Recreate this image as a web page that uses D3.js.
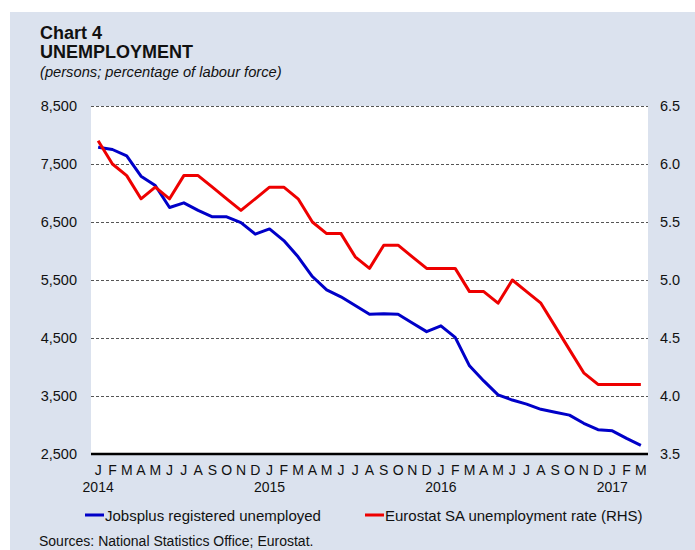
<!DOCTYPE html>
<html>
<head>
<meta charset="utf-8">
<script src="https://cdn.jsdelivr.net/npm/d3@7"></script>
<style>
  html, body { margin: 0; padding: 0; background: #ffffff; }
  svg text { font-family: 'Liberation Sans', Arial, sans-serif; fill: #111; }
</style>
</head>
<body>
<div id="chart"></div>
<script>
// Month labels, Jan 2014 to Mar 2017
const monthLabels = [
  'J','F','M','A','M','J','J','A','S','O','N','D',
  'J','F','M','A','M','J','J','A','S','O','N','D',
  'J','F','M','A','M','J','J','A','S','O','N','D',
  'J','F','M'
];
const yearLabels = ['2014', '2015', '2016', '2017'];

// Jobsplus registered unemployed (persons, LHS)
const jobsplus = [
  7790, 7750, 7640, 7290, 7130, 6750, 6830, 6700, 6590, 6590, 6490, 6290,
  6380, 6180, 5900, 5560, 5330, 5210, 5060, 4910, 4920, 4910, 4760, 4610,
  4710, 4510, 4020, 3760, 3520, 3430, 3360, 3270, 3220, 3170, 3030, 2920,
  2900, 2770, 2650
];

// Eurostat SA unemployment rate (%, RHS)
const eurostat = [
  6.2, 6.0, 5.9, 5.7, 5.8, 5.7, 5.9, 5.9, 5.8, 5.7, 5.6, 5.7,
  5.8, 5.8, 5.7, 5.5, 5.4, 5.4, 5.2, 5.1, 5.3, 5.3, 5.2, 5.1,
  5.1, 5.1, 4.9, 4.9, 4.8, 5.0, 4.9, 4.8, 4.6, 4.4, 4.2, 4.1,
  4.1, 4.1, 4.1
];

const leftTicks = [2500, 3500, 4500, 5500, 6500, 7500, 8500];
const rightTicks = [3.5, 4.0, 4.5, 5.0, 5.5, 6.0, 6.5];

(function() {
  const W = 695, H = 550;
  const plot = { left: 91, right: 648, top: 106, bottom: 454 };
  const bgColor = '#dbe2ee';
  const blue = '#0000c8';
  const red = '#ee0000';
  const fontFamily = "'Liberation Sans', Arial, sans-serif";

  const svg = d3.select('#chart')
    .append('svg')
    .attr('width', W)
    .attr('height', H);

  // Panel background
  svg.append('rect')
    .attr('x', 10)
    .attr('y', 12)
    .attr('width', W - 10)
    .attr('height', H - 12)
    .attr('fill', bgColor);

  // White plot area
  svg.append('rect')
    .attr('x', plot.left)
    .attr('y', plot.top)
    .attr('width', plot.right - plot.left)
    .attr('height', plot.bottom - plot.top)
    .attr('fill', '#ffffff');

  // Title block
  svg.append('text')
    .attr('x', 40).attr('y', 39)
    .style('font-size', '18px').style('font-weight', 'bold')
    .text('Chart 4');
  svg.append('text')
    .attr('x', 40).attr('y', 58)
    .style('font-size', '18px').style('font-weight', 'bold')
    .text('UNEMPLOYMENT');
  svg.append('text')
    .attr('x', 40).attr('y', 77)
    .style('font-size', '14.7px').style('font-style', 'italic')
    .text('(persons; percentage of labour force)');

  // Scales
  const idx = d3.range(monthLabels.length);
  const x = d3.scaleBand()
    .domain(idx)
    .range([plot.left, plot.right]);
  const xc = i => x(i) + x.bandwidth() / 2;

  const yLeft = d3.scaleLinear()
    .domain([2500, 8500])
    .range([plot.bottom, plot.top]);
  const yRight = d3.scaleLinear()
    .domain([3.5, 6.5])
    .range([plot.bottom, plot.top]);

  // Dashed gridlines + left axis labels
  const leftAxis = svg.append('g')
    .attr('transform', `translate(${plot.left},0)`)
    .call(d3.axisLeft(yLeft)
      .tickValues(leftTicks)
      .tickFormat(d3.format(','))
      .tickSize(-(plot.right - plot.left))
      .tickPadding(14));
  leftAxis.select('.domain').remove();
  leftAxis.selectAll('.tick line')
    .attr('stroke', '#555')
    .attr('stroke-width', 1)
    .attr('stroke-dasharray', '3,2')
    .attr('stroke-opacity', d => d === 2500 ? 0 : 1);
  leftAxis.selectAll('.tick text')
    .style('font-size', '14.5px')
    .style('font-family', fontFamily)
    .attr('fill', '#111');

  // Right axis labels
  const rightAxis = svg.append('g')
    .attr('transform', `translate(${plot.right},0)`)
    .call(d3.axisRight(yRight)
      .tickValues(rightTicks)
      .tickFormat(d3.format('.1f'))
      .tickSize(0)
      .tickPadding(12));
  rightAxis.select('.domain').remove();
  rightAxis.selectAll('.tick text')
    .style('font-size', '14.5px')
    .style('font-family', fontFamily)
    .attr('fill', '#111');

  // Bottom axis: month initials
  const xAxis = svg.append('g')
    .attr('transform', `translate(0,${plot.bottom})`)
    .call(d3.axisBottom(x)
      .tickFormat(i => monthLabels[i])
      .tickSize(0)
      .tickPadding(11));
  xAxis.select('.domain').remove();
  xAxis.selectAll('.tick text')
    .style('font-size', '14px')
    .style('font-family', fontFamily)
    .attr('fill', '#111');

  // Year labels under each January
  svg.selectAll('.year-label')
    .data(yearLabels)
    .enter()
    .append('text')
    .attr('class', 'year-label')
    .attr('x', (d, i) => xc(i * 12))
    .attr('y', 492)
    .attr('text-anchor', 'middle')
    .style('font-size', '14px')
    .text(d => d);

  // Lines
  const lineLeft = d3.line()
    .x((d, i) => xc(i))
    .y(d => yLeft(d));
  const lineRight = d3.line()
    .x((d, i) => xc(i))
    .y(d => yRight(d));

  svg.append('path')
    .datum(jobsplus)
    .attr('d', lineLeft)
    .attr('fill', 'none')
    .attr('stroke', blue)
    .attr('stroke-width', 3)
    .attr('stroke-linejoin', 'round');

  svg.append('path')
    .datum(eurostat)
    .attr('d', lineRight)
    .attr('fill', 'none')
    .attr('stroke', red)
    .attr('stroke-width', 3)
    .attr('stroke-linejoin', 'round');

  // Solid baseline
  svg.append('line')
    .attr('x1', plot.left).attr('x2', plot.right)
    .attr('y1', plot.bottom).attr('y2', plot.bottom)
    .attr('stroke', '#000')
    .attr('stroke-width', 2.5);

  // Legend
  const legendData = [
    { label: 'Jobsplus registered unemployed', color: blue, x: 85 },
    { label: 'Eurostat SA unemployment rate (RHS)', color: red, x: 365 }
  ];
  const legend = svg.selectAll('.legend-item')
    .data(legendData)
    .enter()
    .append('g')
    .attr('class', 'legend-item')
    .attr('transform', d => `translate(${d.x},515)`);
  legend.append('line')
    .attr('x1', 0).attr('x2', 19)
    .attr('y1', 0).attr('y2', 0)
    .attr('stroke', d => d.color)
    .attr('stroke-width', 3);
  legend.append('text')
    .attr('x', 20)
    .attr('y', 5.5)
    .style('font-size', '15px')
    .text(d => d.label);

  // Source note
  svg.append('text')
    .attr('x', 39).attr('y', 546)
    .style('font-size', '14px')
    .text('Sources: National Statistics Office; Eurostat.');
})();
</script>
</body>
</html>
